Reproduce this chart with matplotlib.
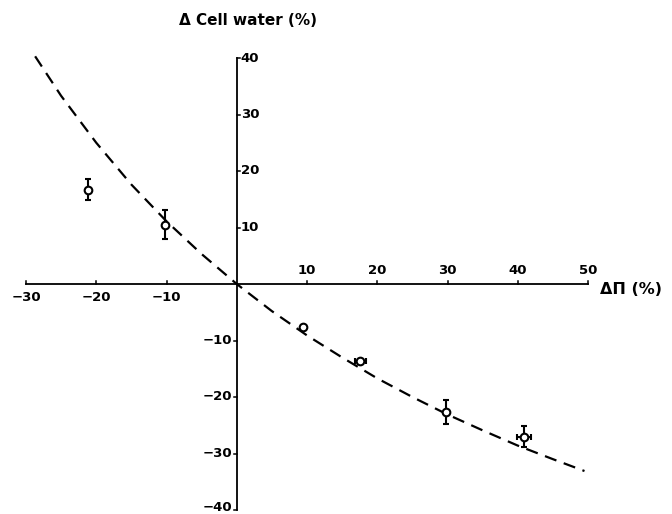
import matplotlib
matplotlib.use("Agg")
import matplotlib.pyplot as plt

# measured points: osmotic change vs cell water change
d_pi = [-21.2, -10.2, 9.5, 17.6, 29.8, 40.9]
d_water = [16.7, 10.5, -7.6, -13.7, -22.7, -27.0]
water_err = [1.9, 2.6, 0.0, 0.0, 2.1, 1.9]
pi_err = [0.0, 0.0, 0.0, 0.8, 0.0, 1.0]

# dashed reference curve
curve_x = [-28.7, -25, -20, -15, -10, -5, 0, 5, 10, 15, 20, 25, 30, 35, 40, 45, 49.5]
curve_y = [40.3, 33.3, 25.0, 17.6, 11.1, 5.3, 0.0, -4.8, -9.1, -13.0, -16.7,
           -20.0, -23.1, -25.9, -28.6, -31.0, -33.1]

x_ticks = [-30, -20, -10, 10, 20, 30, 40, 50]
y_ticks = [-40, -30, -20, -10, 10, 20, 30, 40]

fig = plt.figure(figsize=(6.72, 5.14), dpi=100)
ax = fig.add_axes([26 / 672, 1 - 510 / 514, 562 / 672, 452 / 514])
ax.set_xlim(-30, 50)
ax.set_ylim(-40, 40)

# axes crossing at the origin
ax.spines["left"].set_position(("data", 0))
ax.spines["bottom"].set_position(("data", 0))
ax.spines["right"].set_visible(False)
ax.spines["top"].set_visible(False)
for s in ("left", "bottom"):
    ax.spines[s].set_linewidth(1.3)
ax.set_xticks([])
ax.set_yticks([])

lab = dict(fontsize=9.5, fontweight="bold", family="DejaVu Sans", clip_on=False)
for t in x_ticks:
    ax.plot([t, t], [0, 0.5], color="black", lw=1.1, clip_on=False)
    if t < 0:
        ax.annotate(f"\u2212{abs(t)}", (t, 0), xytext=(0, -5), textcoords="offset points",
                    ha="center", va="top", **lab)
    else:
        ax.annotate(f"{t}", (t, 0), xytext=(0, 5), textcoords="offset points",
                    ha="center", va="bottom", **lab)
for t in y_ticks:
    if t > 0:
        ax.plot([0, 0.4], [t, t], color="black", lw=1.1, clip_on=False)
        ax.annotate(f"{t}", (0, t), xytext=(3, 0), textcoords="offset points",
                    ha="left", va="center", **lab)
    else:
        ax.plot([-0.4, 0], [t, t], color="black", lw=1.1, clip_on=False)
        dy = 2 if t == -40 else 0  # keep bottom label inside the figure
        ax.annotate(f"\u2212{abs(t)}", (0, t), xytext=(-3, dy), textcoords="offset points",
                    ha="right", va="center", **lab)

ax.plot(curve_x, curve_y, color="black", lw=1.6, dashes=(5.5, 3.5), clip_on=False)

ax.errorbar(d_pi, d_water, yerr=water_err, xerr=pi_err, fmt="o", color="black",
            mfc="white", mec="black", ms=5.5, mew=1.5, elinewidth=1.5,
            capsize=2, capthick=1.5, zorder=5, clip_on=False)

ax.annotate("\u0394 Cell water (%)", (0, 40), xytext=(8, 27), textcoords="offset points",
            ha="center", va="center", fontsize=11, fontweight="bold", clip_on=False)
ax.annotate("\u0394\u03a0 (%)", (50, 0), xytext=(9, -4), textcoords="offset points",
            ha="left", va="center", fontsize=11.5, fontweight="bold", clip_on=False)

fig.savefig("out.png", dpi=100)
